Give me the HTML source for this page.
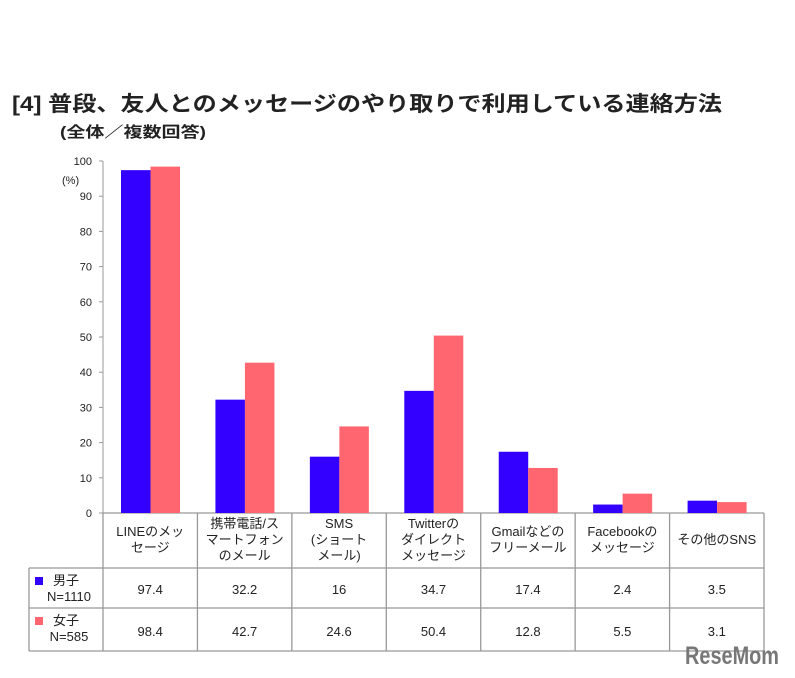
<!DOCTYPE html>
<html><head><meta charset="utf-8"><style>
body{margin:0;background:#fff;width:795px;height:673px;overflow:hidden;font-family:"Liberation Sans","Noto Sans CJK JP",sans-serif}
svg text{font-family:"Liberation Sans","Noto Sans CJK JP",sans-serif}
</style></head><body>
<svg width="795" height="673">
<text x="12" y="111" font-size="21" font-weight="bold" fill="#222" textLength="710" lengthAdjust="spacingAndGlyphs">[4] 普段、友人とのメッセージのやり取りで利用している連絡方法</text>
<text x="60" y="137" font-size="15" font-weight="bold" fill="#222" textLength="146" lengthAdjust="spacingAndGlyphs">(全体／複数回答)</text>
<g id="g"></g>
<text x="685" y="664" font-size="25" font-weight="bold" fill="#777" textLength="94" lengthAdjust="spacingAndGlyphs">ReseMom</text>
</svg>
<script>
const categories=[["LINEのメッ","セージ"],["携帯電話/ス","マートフォン","のメール"],["SMS","(ショート","メール)"],["Twitterの","ダイレクト","メッセージ"],["Gmailなどの","フリーメール"],["Facebookの","メッセージ"],["その他のSNS"]];
const boys=[97.4,32.2,16,34.7,17.4,2.4,3.5];
const girls=[98.4,42.7,24.6,50.4,12.8,5.5,3.1];
const ticks=[0,10,20,30,40,50,60,70,80,90,100];
const seriesNames=[["男子","N=1110"],["女子","N=585"]];
const colors=["#3300ff","#ff6670"];
const NS="http://www.w3.org/2000/svg",g=document.getElementById('g');
const x0=103,cw=94.43,y0=513,yTop=161;
const y=v=>y0-(v/100)*(y0-yTop);
function el(t,a,txt){const e=document.createElementNS(NS,t);for(const k in a)e.setAttribute(k,a[k]);if(txt!=null)e.textContent=txt;g.appendChild(e);return e;}
const ax=el('line',{x1:x0,y1:yTop,x2:x0,y2:y0,stroke:'#999'});


ticks.forEach(t=>{
 const l=el('line',{x1:x0-4,y1:y(t),x2:x0,y2:y(t),stroke:'#999'});
 
 
 const tx=el('text',{x:92,y:y(t)+4,'font-size':11,'text-anchor':'end',fill:'#222'},t);
 
 
});
const u=el('text',{x:62,y:184,'font-size':11,fill:'#222'},'(%)');


const n=categories.length,xEnd=x0+cw*n;
[[x0,y0,xEnd,y0],[29,568,xEnd,568],[29,608,xEnd,608],[29,651,xEnd,651],[29,568,29,651]].forEach(a=>{const l=el('line',{x1:a[0],y1:a[1],x2:a[2],y2:a[3],stroke:'#999','stroke-width':1.3});});
for(let i=0;i<=n;i++){const l=el('line',{x1:x0+cw*i,y1:y0,x2:x0+cw*i,y2:651,stroke:'#999','stroke-width':1.3});}
categories.forEach((c,i)=>{
 const cx=x0+cw*i;
 [boys,girls].forEach((s,j)=>{
  const r=el('rect',{x:cx+18+j*29.5,y:y(s[i]),width:29.5,height:y0-y(s[i]),fill:colors[j]});
  
  
  const v=el('text',{x:cx+cw/2,y:(j?636:594),'font-size':13,'text-anchor':'middle',fill:'#222'},s[i]);
  
  
 });
 const h=c.length*16, st=540-h/2+12;
 c.forEach((ln,k)=>{const t=el('text',{x:cx+cw/2,y:st+k*16,'font-size':13,'text-anchor':'middle',fill:'#222'},ln);});
});
seriesNames.forEach((s,j)=>{
 const yy=j?608:568;
 const r=el('rect',{x:35,y:yy+9,width:8,height:8,fill:colors[j]});
 
 
 const a=el('text',{x:66,y:yy+17,'font-size':13,'text-anchor':'middle',fill:'#222'},s[0]);
 
 
 const b=el('text',{x:69,y:yy+33,'font-size':13,'text-anchor':'middle',fill:'#222'},s[1]);
 
 
});
</script>
</body></html>
